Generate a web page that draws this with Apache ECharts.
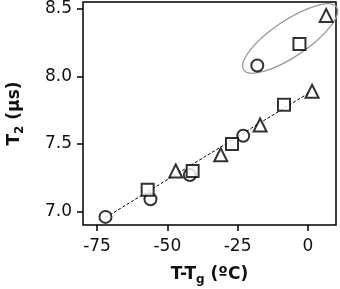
<!DOCTYPE html>
<html>
<head>
<meta charset="utf-8">
<script src="https://cdn.jsdelivr.net/npm/echarts@6/dist/echarts.min.js"></script>
<style>
  html, body { margin: 0; padding: 0; background: #fff; }
  #main { width: 340px; height: 289px; }
</style>
</head>
<body>
<div id="main"></div>
<script>
// data
const circleX = [-72, -56, -42, -23, -18];
const circleY = [6.96, 7.09, 7.27, 7.56, 8.08];
const squareX = [-57, -41, -27, -8.5, -3];
const squareY = [7.16, 7.30, 7.50, 7.79, 8.24];
const triangleX = [-47, -31, -17, 1.5, 6.5];
const triangleY = [7.30, 7.42, 7.64, 7.89, 8.45];
const fitX = [-72, 1];
const fitY = [6.955, 7.885];
const ringCenter = [-6.3, 8.28];
const xTicks = [-75, -50, -25, 0];
const yTicks = [7.0, 7.5, 8.0, 8.5];

function pairs(xs, ys) {
  return xs.map((x, i) => [x, ys[i]]);
}

const myChart = echarts.init(document.getElementById("main"));
const font = "'DejaVu Sans', sans-serif";

const markerStyle = {
  color: "#fff",
  borderColor: "#000",
  borderWidth: 2,
};

const titleRich = {
  b: { fontSize: 17, fontWeight: "bold", fontFamily: font, color: "#111", lineHeight: 20 },
  s: { fontSize: 12, fontWeight: "bold", fontFamily: font, color: "#111", lineHeight: 20, padding: [10, 0, 0, 0] },
};

let option = {
  animation: false,
  grid: {
    left: 83,
    right: 4,
    top: 2,
    bottom: 64,
    outerBoundsMode: "none",
    containLabel: false,
    show: true,
    borderColor: "#000",
    borderWidth: 1.5,
  },
  xAxis: {
    type: "value",
    min: -80,
    max: 10,
    axisLine: { show: false, onZero: false },
    splitLine: { show: false },
    axisTick: {
      show: true,
      inside: false,
      length: 6,
      customValues: xTicks,
      lineStyle: { color: "#000", width: 1.5 },
    },
    axisLabel: {
      customValues: xTicks,
      margin: 13,
      color: "#111",
      fontSize: 17,
      fontFamily: font,
    },
    name: "{b|T-T}{s|g}{b| (ºC)}",
    nameLocation: "middle",
    nameGap: 40,
    nameTextStyle: { rich: titleRich },
  },
  yAxis: {
    type: "value",
    min: 6.9,
    max: 8.55,
    axisLine: { show: false, onZero: false },
    splitLine: { show: false },
    axisTick: {
      show: true,
      inside: false,
      length: 6,
      customValues: yTicks,
      lineStyle: { color: "#000", width: 1.5 },
    },
    axisLabel: {
      customValues: yTicks,
      margin: 11,
      color: "#111",
      fontSize: 17,
      fontFamily: font,
      formatter: (v) => v.toFixed(1),
    },
    name: "{b|T}{s|2}{b| (µs)}",
    nameLocation: "middle",
    nameGap: 58,
    nameTextStyle: { rich: titleRich },
  },
  series: [
    {
      type: "line",
      data: pairs(fitX, fitY),
      symbol: "none",
      z: 1,
      lineStyle: { color: "#000", width: 1, type: [3, 2] },
    },
    {
      type: "custom",
      z: 1,
      data: [ringCenter],
      renderItem: function (params, api) {
        const c = api.coord([api.value(0), api.value(1)]);
        return {
          type: "ellipse",
          x: c[0],
          y: c[1],
          rotation: (34 * Math.PI) / 180,
          shape: { cx: 0, cy: 0, rx: 56, ry: 18 },
          style: { fill: "none", stroke: "#999", lineWidth: 1.3 },
        };
      },
    },
    {
      type: "scatter",
      data: pairs(circleX, circleY),
      symbol: "circle",
      symbolSize: 12,
      z: 3,
      itemStyle: markerStyle,
    },
    {
      type: "scatter",
      data: pairs(squareX, squareY),
      symbol: "rect",
      symbolSize: 12,
      z: 3,
      itemStyle: markerStyle,
    },
    {
      type: "scatter",
      data: pairs(triangleX, triangleY),
      symbol: "triangle",
      symbolSize: 13,
      z: 3,
      itemStyle: markerStyle,
    },
  ],
};
option && myChart.setOption(option);
</script>
</body>
</html>
